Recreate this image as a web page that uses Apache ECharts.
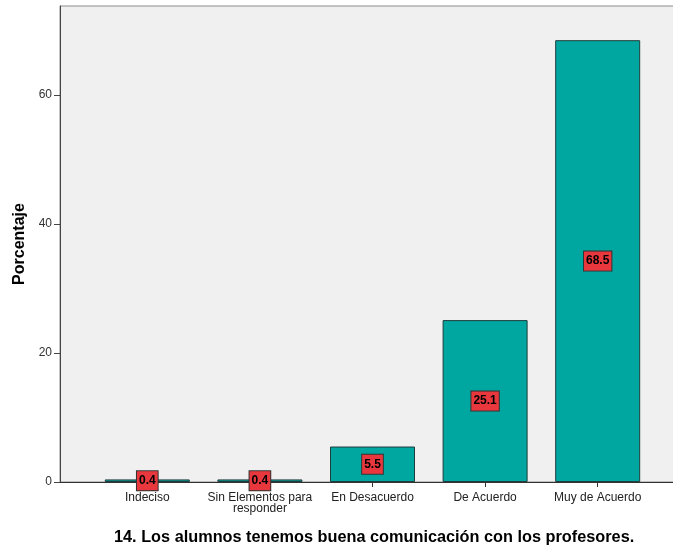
<!DOCTYPE html>
<html><head><meta charset="utf-8">
<script src="https://cdn.jsdelivr.net/npm/echarts@6/dist/echarts.min.js"></script>
<style>html,body{margin:0;padding:0;background:#fff}#c{width:673px;height:546px}</style>
</head><body><div id="c"></div>
<script>
const categories = ['Indeciso', 'Sin Elementos para\nresponder', 'En Desacuerdo', 'De Acuerdo', 'Muy de Acuerdo'];
const values = [0.4, 0.4, 5.5, 25.1, 68.5];
const yTicks = [0, 20, 40, 60];
const yMax = 73.8;
const titleText = '14. Los alumnos tenemos buena comunicación con los profesores.';
const yName = 'Porcentaje';

const chart = echarts.init(document.getElementById('c'), null, {renderer: 'canvas'});
chart.setOption({
  animation: false,
  textStyle: {fontFamily: 'Liberation Sans, Arial, sans-serif'},
  grid: [
    {left: 60, top: 6, right: -2, bottom: 64, show: true, backgroundColor: '#F0F0F0', borderColor: '#8c8c8c', borderWidth: 1, containLabel: false, outerBoundsMode: 'none'},
    {left: 91, top: 6, right: 19, bottom: 64, containLabel: false, outerBoundsMode: 'none'}
  ],
  xAxis: [
    {gridIndex: 0, type: 'value', min: 0, max: 1, axisLine: {show: true, lineStyle: {color: '#333', width: 1}}, axisTick: {show: false}, axisLabel: {show: false}, splitLine: {show: false}},
    {gridIndex: 1, type: 'category', data: categories, axisLine: {show: false},
     axisTick: {show: true, alignWithLabel: true, length: 5, lineStyle: {color: '#333'}},
     axisLabel: {color: '#222', fontSize: 12, lineHeight: 11, margin: 10, interval: 0, fontFamily: 'Liberation Sans, Arial'}}
  ],
  yAxis: [
    {gridIndex: 0, type: 'value', min: 0, max: yMax,
     name: yName, nameLocation: 'middle', nameGap: 29, nameRotate: 90,
     nameTextStyle: {fontWeight: 'bold', fontSize: 16, color: '#000', fontFamily: 'Liberation Sans, Arial'},
     axisLine: {show: true, lineStyle: {color: '#444', width: 1}},
     axisTick: {show: true, inside: false, length: 6, customValues: yTicks, lineStyle: {color: '#444'}},
     axisLabel: {customValues: yTicks, color: '#333', fontSize: 12, margin: 8},
     splitLine: {show: false}},
    {gridIndex: 1, type: 'value', min: 0, max: yMax, show: false}
  ],
  title: {text: titleText, left: 109, top: 525,
    textStyle: {fontSize: 16.3, fontWeight: 'bold', color: '#000', fontFamily: 'Liberation Sans, Arial'}},
  series: [{
    type: 'bar', xAxisIndex: 1, yAxisIndex: 1, data: values, barWidth: 85,
    itemStyle: {color: '#00A6A0', borderColor: '#1f3d3d', borderWidth: 1},
    label: {show: true, position: 'inside', formatter: p => p.value.toFixed(1),
      color: '#000', fontWeight: 'bold', fontSize: 12, fontFamily: 'Liberation Sans, Arial',
      backgroundColor: '#E8383D', borderColor: '#333', borderWidth: 1, padding: [3, 2, 2, 2], lineHeight: 14}
  }]
});
</script></body></html>
